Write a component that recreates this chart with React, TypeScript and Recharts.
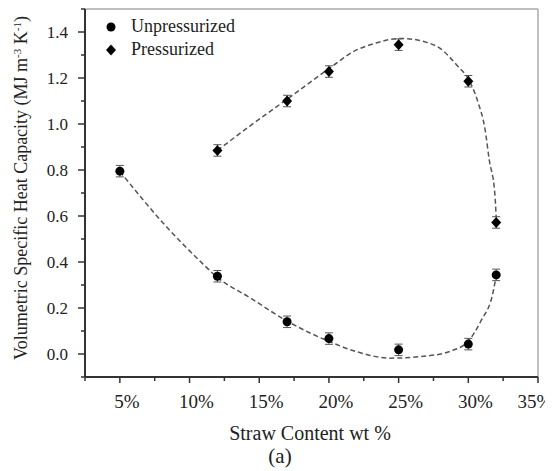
import { ComposedChart, XAxis, YAxis, Scatter, Line, ErrorBar, ReferenceLine } from "recharts";

// measured points
const unpressX = [5, 12, 17, 20, 25, 30, 32];
const unpressY = [0.795, 0.338, 0.14, 0.067, 0.018, 0.043, 0.344];
const unpressErr = [0.025, 0.025, 0.025, 0.025, 0.025, 0.025, 0.025];

const pressX = [12, 17, 20, 25, 30, 32];
const pressY = [0.885, 1.1, 1.228, 1.345, 1.186, 0.572];
const pressErr = [0.025, 0.025, 0.025, 0.025, 0.025, 0.025];

// dashed fit curves
const unpressFitX = [5, 8.35, 10.7, 12, 14.3, 17, 20, 22, 24.4, 26.8, 28.7, 30, 30.9, 31.8, 32];
const unpressFitY = [0.794, 0.553, 0.407, 0.333, 0.246, 0.143, 0.055, 0.01, -0.018, -0.01, 0.012, 0.056, 0.143, 0.275, 0.34];

const pressFitX = [12, 14.3, 17, 20.3, 21.7, 23.2, 25.2, 27, 28, 29.2, 30, 30.7, 31.2, 31.5, 31.9, 32];
const pressFitY = [0.885, 0.99, 1.108, 1.254, 1.313, 1.349, 1.372, 1.355, 1.328, 1.254, 1.196, 1.094, 0.977, 0.845, 0.699, 0.596];

const xTicks = [2.5, 5, 7.5, 10, 12.5, 15, 17.5, 20, 22.5, 25, 27.5, 30, 32.5, 35];
const yTicks = [-0.1, 0, 0.1, 0.2, 0.3, 0.4, 0.5, 0.6, 0.7, 0.8, 0.9, 1.0, 1.1, 1.2, 1.3, 1.4, 1.5];

const FONT = "'Liberation Serif', serif";
const AXIS = "#333";
const TEXT = "#222";

const zip = (xs: number[], ys: number[], es?: number[]) =>
  xs.map((x, i) => ({ x, y: ys[i], err: es ? es[i] : 0 }));

const unpressData = zip(unpressX, unpressY, unpressErr);
const pressData = zip(pressX, pressY, pressErr);
const unpressFit = zip(unpressFitX, unpressFitY);
const pressFit = zip(pressFitX, pressFitY);

function XTick(props: any) {
  const { x, y, payload } = props;
  const v = payload.value as number;
  const major = v % 5 === 0;
  return (
    <g>
      <line x1={x} y1={y} x2={x} y2={y + (major ? 6 : 4)} stroke={AXIS} strokeWidth={1.5} />
      {major && (
        <text x={x + (v === 35 ? -3 : 7)} y={y + 31} textAnchor="middle" style={{ fontFamily: FONT, fontSize: 19 }} fill={TEXT}>
          {v}%
        </text>
      )}
    </g>
  );
}

function YTick(props: any) {
  const { x, y, payload } = props;
  const v = payload.value as number;
  const tenth = Math.round(v * 10);
  const major = tenth >= 0 && tenth <= 14 && tenth % 2 === 0;
  return (
    <g>
      <line x1={x} y1={y} x2={x - (major ? 7 : 4)} y2={y} stroke={AXIS} strokeWidth={1.5} />
      {major && (
        <text x={x - 17} y={y + 6} textAnchor="end" style={{ fontFamily: FONT, fontSize: 17 }} fill={TEXT}>
          {v.toFixed(1)}
        </text>
      )}
    </g>
  );
}

function YTitle() {
  return (
    <text
      transform="translate(19, 180) rotate(-90)"
      textAnchor="middle"
      style={{ fontFamily: FONT, fontSize: 18 }}
      fill={TEXT}
    >
      Volumetric Specific Heat Capacity (MJ m
      <tspan dy={-6} style={{ fontSize: 11 }}>-3</tspan>
      <tspan dy={6}> K</tspan>
      <tspan dy={-6} style={{ fontSize: 11 }}>-1</tspan>
      <tspan dy={6}>)</tspan>
    </text>
  );
}

function XTitle() {
  return (
    <g fill={TEXT}>
      <text x={302} y={432} textAnchor="middle" style={{ fontFamily: FONT, fontSize: 20 }}>Straw Content wt %</text>
      <text x={272} y={455} textAnchor="middle" style={{ fontFamily: FONT, fontSize: 21 }}>(a)</text>
    </g>
  );
}

const Dot = (p: any) => <circle cx={p.cx} cy={p.cy} r={4.5} fill="#000" />;
const Diamond = (p: any) => (
  <path d={`M${p.cx},${p.cy - 5.5} L${p.cx + 5},${p.cy} L${p.cx},${p.cy + 5.5} L${p.cx - 5},${p.cy} Z`} fill="#000" />
);

function LegendBox() {
  const row = { display: "flex", alignItems: "center", height: 23 } as const;
  return (
    <div style={{ position: "absolute", top: 7, left: 96, fontFamily: FONT, fontSize: 18, color: TEXT, lineHeight: "23px" }}>
      <div style={row}>
        <svg width={14} height={14}><circle cx={7} cy={7} r={4.5} fill="#000" /></svg>
        <span style={{ marginLeft: 13 }}>Unpressurized</span>
      </div>
      <div style={row}>
        <svg width={14} height={14}><path d="M7,1.5 L12,7 L7,12.5 L2,7 Z" fill="#000" /></svg>
        <span style={{ marginLeft: 13 }}>Pressurized</span>
      </div>
    </div>
  );
}

export default function App() {
  return (
    <div style={{ position: "relative", width: 545, height: 460 }}>
      <ComposedChart width={545} height={460} margin={{ top: 1, right: 15, bottom: 0, left: 0 }}>
        <XAxis
          type="number"
          dataKey="x"
          domain={[2.5, 35]}
          ticks={xTicks}
          interval={0}
          allowDataOverflow
          height={91}
          tickSize={0}
          tickMargin={0}
          tickLine={false}
          axisLine={{ stroke: AXIS, strokeWidth: 2 }}
          tick={<XTick />}
          label={<XTitle />}
        />
        <YAxis
          type="number"
          domain={[-0.1, 1.5]}
          ticks={yTicks}
          interval={0}
          allowDataOverflow
          width={77}
          tickSize={0}
          tickMargin={0}
          tickLine={false}
          axisLine={{ stroke: AXIS, strokeWidth: 2 }}
          tick={<YTick />}
          label={<YTitle />}
        />
        <ReferenceLine y={1.5} stroke="#aaa" strokeWidth={1.5} />
        <ReferenceLine x={35} stroke="#aaa" strokeWidth={1.5} />
        <Line
          data={unpressFit}
          dataKey="y"
          type="monotone"
          stroke="#555"
          strokeWidth={1.5}
          strokeDasharray="5 3"
          dot={false}
          activeDot={false}
          isAnimationActive={false}
        />
        <Line
          data={pressFit}
          dataKey="y"
          type="monotone"
          stroke="#555"
          strokeWidth={1.5}
          strokeDasharray="5 3"
          dot={false}
          activeDot={false}
          isAnimationActive={false}
        />
        <Scatter name="Unpressurized" data={unpressData} dataKey="y" shape={Dot} isAnimationActive={false}>
          <ErrorBar dataKey="err" direction="y" width={4} stroke="#555" strokeWidth={1} />
        </Scatter>
        <Scatter name="Pressurized" data={pressData} dataKey="y" shape={Diamond} isAnimationActive={false}>
          <ErrorBar dataKey="err" direction="y" width={4} stroke="#555" strokeWidth={1} />
        </Scatter>
      </ComposedChart>
      <LegendBox />
    </div>
  );
}
